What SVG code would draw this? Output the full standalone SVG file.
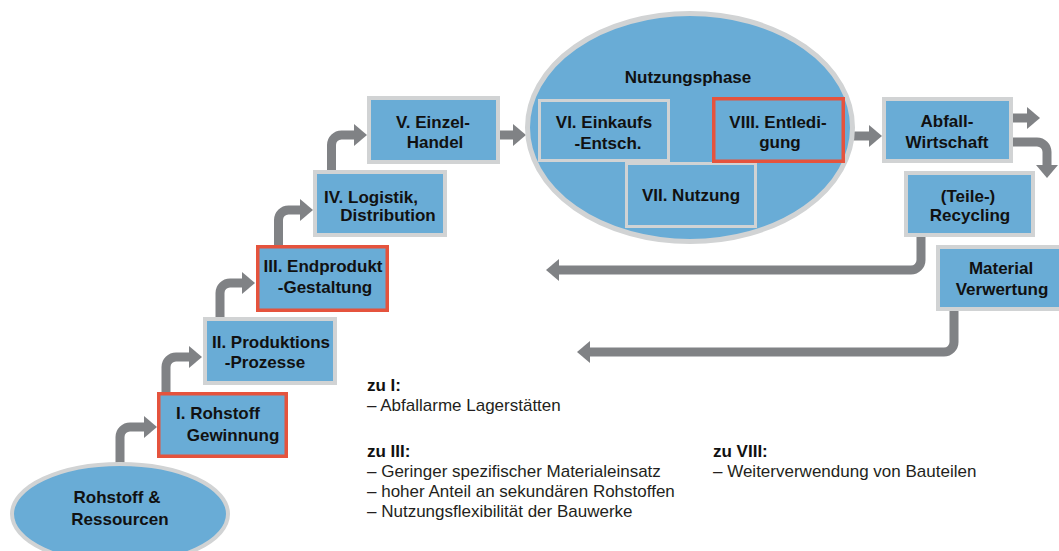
<svg xmlns="http://www.w3.org/2000/svg" width="1059" height="551" viewBox="0 0 1059 551">
<defs>
<marker id="ah" viewBox="0 0 13 22" markerWidth="13" markerHeight="22" refX="0" refY="11" orient="auto" markerUnits="userSpaceOnUse">
<path d="M0,0 L13,11 L0,22 Z" fill="#808285"/>
</marker>
<style>
.box{fill:#69acd6;stroke:#d1d3d4;stroke-width:4}
.red{fill:#69acd6;stroke:#e5533d;stroke-width:3.5}
.ell{fill:#69acd6;stroke:#d1d3d4;stroke-width:5}
.in{fill:#69acd6;stroke:#d1d3d4;stroke-width:3}
.t{font-family:"Liberation Sans",Arial,sans-serif;font-weight:bold;font-size:17px;fill:#111;text-anchor:middle}
.n{font-family:"Liberation Sans",Arial,sans-serif;font-size:17px;fill:#231f20}
.nb{font-family:"Liberation Sans",Arial,sans-serif;font-size:17px;font-weight:bold;fill:#111}
.c{fill:none;stroke:#808285;stroke-width:9;marker-end:url(#ah)}
</style>
</defs>
<rect width="1059" height="551" fill="#ffffff"/>
<g id="connectors">
<path class="c" d="M120,466 V437 A10,10 0 0 1 130,427 H144"/>
<path class="c" d="M166,394 V367 A10,10 0 0 1 176,357 H189"/>
<path class="c" d="M220,319 V293 A10,10 0 0 1 230,283 H242"/>
<path class="c" d="M278.5,247 V220 A10,10 0 0 1 288.5,210 H300"/>
<path class="c" d="M331.5,172 V145 A10,10 0 0 1 341.5,135 H354"/>
<path class="c" d="M500,135 H513"/>
<path class="c" d="M853,136 H869"/>
<path class="c" d="M1011,118 H1027"/>
<path class="c" d="M1011,142 H1037 A10,10 0 0 1 1047,152 V165"/>
<path class="c" d="M921,235 V260 A10,10 0 0 1 911,270 H559"/>
<path class="c" d="M954,309 V342 A10,10 0 0 1 944,352 H590"/>
</g>
<g id="rohstoff">
<ellipse class="ell" cx="120" cy="514" rx="108" ry="50" style="stroke-width:4"/>
<text class="t" x="117" y="503">Rohstoff &amp;</text>
<text class="t" x="120" y="525">Ressourcen</text>
</g>
<g id="n1">
<rect class="red" x="158.75" y="393.75" width="127.5" height="62.5"/>
<text class="t" x="218" y="419">I. Rohstoff</text>
<text class="t" x="233" y="441">Gewinnung</text>
</g>
<g id="n2">
<rect class="box" x="205" y="319" width="130" height="64"/>
<text class="t" x="271" y="348">II. Produktions</text>
<text class="t" x="265" y="368">-Prozesse</text>
</g>
<g id="n3">
<rect class="red" x="257.75" y="246.75" width="129.5" height="63.5"/>
<text class="t" x="323" y="272">III. Endprodukt</text>
<text class="t" x="325" y="293">-Gestaltung</text>
</g>
<g id="n4">
<rect class="box" x="315" y="172" width="130" height="63"/>
<text class="t" x="371" y="203">IV. Logistik,</text>
<text class="t" x="388" y="221">Distribution</text>
</g>
<g id="n5">
<rect class="box" x="369" y="98" width="129" height="64"/>
<text class="t" x="433" y="128">V. Einzel-</text>
<text class="t" x="435" y="148">Handel</text>
</g>
<g id="nutzungsphase">
<ellipse class="ell" cx="690" cy="127.5" rx="162.5" ry="114"/>
<text class="t" x="688" y="83">Nutzungsphase</text>
</g>
<g id="n6">
<rect class="in" x="539.5" y="100.5" width="129" height="60"/>
<text class="t" x="604" y="128">VI. Einkaufs</text>
<text class="t" x="608" y="149">-Entsch.</text>
</g>
<g id="n7">
<rect class="in" x="626.5" y="163.5" width="129" height="63"/>
<text class="t" x="691" y="201">VII. Nutzung</text>
</g>
<g id="n8">
<rect class="red" x="713.75" y="98.75" width="129.5" height="62.5"/>
<text class="t" x="778" y="128">VIII. Entledi-</text>
<text class="t" x="780" y="148">gung</text>
</g>
<g id="abfall">
<rect class="box" x="884" y="99" width="127" height="62"/>
<text class="t" x="947" y="127">Abfall-</text>
<text class="t" x="947" y="148">Wirtschaft</text>
</g>
<g id="recycling">
<rect class="box" x="906" y="173" width="127" height="62"/>
<text class="t" x="968" y="202">(Teile-)</text>
<text class="t" x="970" y="221">Recycling</text>
</g>
<g id="material">
<rect class="box" x="938" y="247" width="130" height="62"/>
<text class="t" x="1001" y="274">Material</text>
<text class="t" x="1002" y="295">Verwertung</text>
</g>
<g id="notes">
<text class="nb" x="367" y="391">zu I:</text>
<text class="n" x="367" y="411">– Abfallarme Lagerstätten</text>
<text class="nb" x="367" y="457">zu III:</text>
<text class="n" x="367" y="477">– Geringer spezifischer Materialeinsatz</text>
<text class="n" x="367" y="497">– hoher Anteil an sekundären Rohstoffen</text>
<text class="n" x="367" y="517">– Nutzungsflexibilität der Bauwerke</text>
<text class="nb" x="713" y="457">zu VIII:</text>
<text class="n" x="713" y="477">– Weiterverwendung von Bauteilen</text>
</g>
</svg>
